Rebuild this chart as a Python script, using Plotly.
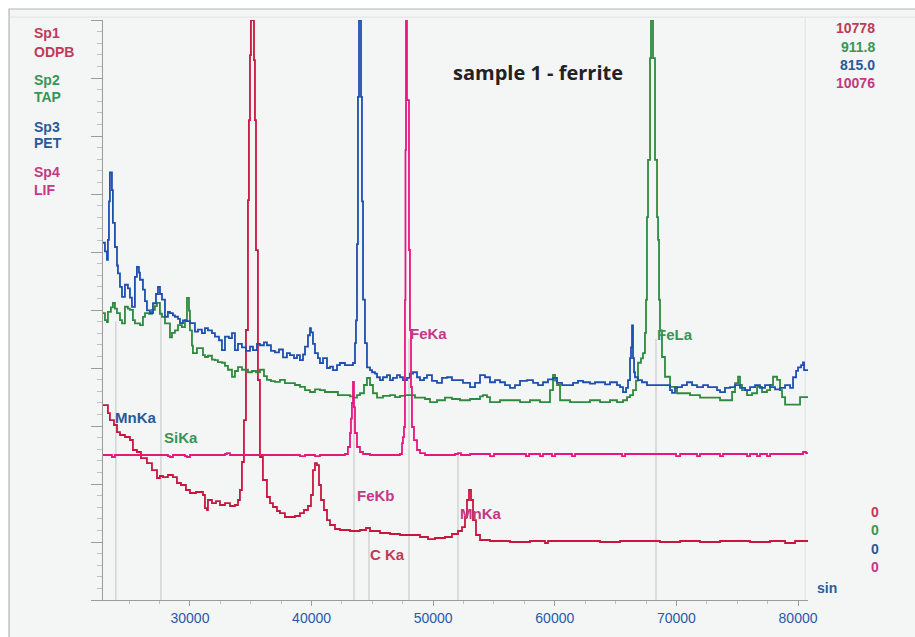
import plotly.graph_objects as go

# ---------------- data ----------------
spectrometers = ["Sp1", "Sp2", "Sp3", "Sp4"]
crystals = ["ODPB", "TAP", "PET", "LIF"]
full_scale = [10778, 911.8, 815.0, 10076]
full_scale_txt = ["10778", "911.8", "815.0", "10076"]
zero_txt = ["0", "0", "0", "0"]

x_range = [22850, 80820]
x_ticks = [30000, 40000, 50000, 60000, 70000, 80000]

sp1_sin = [22850, 23090, 23255, 23420, 23750, 24000, 24245, 24655, 25065, 25310, 25640, 25970,
           26465, 26875, 27290, 27530, 27780, 28190, 28600, 28930, 29260, 29670, 30000, 30495,
           31070, 31235, 31400, 31480, 31810, 32140, 32470, 32880, 33290, 33700, 33950, 34110,
           34275, 34440, 34605, 34770, 34850, 34935, 35015, 35180, 35265, 35345, 35430, 35590,
           35755, 36000, 36330, 36580, 36825, 37155, 37400, 37810, 38225, 38635, 39045, 39375,
           39705, 39950, 40115, 40280, 40445, 40610, 40775, 41020, 41270, 41515, 41925, 42335,
           43160, 43980, 44475, 44805, 45625, 46450, 47270, 48090, 48915, 49575, 50150, 50970,
           51545, 52040, 52370, 52615, 52780, 52945, 53110, 53275, 53520, 53850, 54670, 55495,
           56315, 57960, 59195, 59440, 62075, 63720, 65365, 68650, 70300, 71940, 73585, 76055,
           77700, 78935, 79755, 80820]
sp1_cts = [3623, 3623, 3474, 3344, 3252, 3121, 3066, 3029, 2973, 2787, 2750, 2638,
           2545, 2415, 2267, 2304, 2285, 2323, 2285, 2174, 2137, 2044, 1988, 2007,
           1951, 1709, 1672, 1858, 1802, 1839, 1765, 1802, 1747, 1765, 1858, 2044,
           2564, 3344, 5017, 7432, 8918, 10126, 10778, 10778, 10033, 8918, 6503, 4088,
           2657, 2230, 1914, 1802, 1728, 1654, 1616, 1542, 1542, 1561, 1616, 1672,
           1747, 1951, 2415, 2545, 2508, 2137, 1858, 1672, 1486, 1394, 1319, 1301,
           1282, 1301, 1338, 1282, 1245, 1226, 1208, 1208, 1171, 1133, 1152, 1171,
           1226, 1282, 1356, 1542, 1858, 2044, 1858, 1486, 1208, 1115, 1096, 1096,
           1078, 1096, 1059, 1096, 1096, 1078, 1096, 1078, 1096, 1078, 1096, 1078,
           1096, 1059, 1096, 1096]

sp2_sin = [22850, 23010, 23175, 23255, 23500, 23665, 23830, 24000, 24245, 24410, 24655, 24900,
           25065, 25310, 25475, 25890, 26135, 26300, 26630, 26875, 27120, 27285, 27530, 27700,
           27945, 28110, 28355, 28520, 28765, 29015, 29340, 29590, 29755, 29920, 30000, 30165,
           30245, 30575, 30820, 31070, 31235, 31480, 31810, 32055, 32300, 32630, 32880, 33125,
           33455, 33700, 33950, 34275, 34525, 34770, 35100, 35430, 35755, 36085, 36330, 36660,
           36990, 37400, 37810, 38225, 38635, 39045, 39460, 39870, 40280, 40690, 41100, 41760,
           42170, 42745, 43160, 43405, 43735, 43980, 44310, 44555, 44805, 45050, 45380, 45870,
           46450, 46860, 47270, 47680, 48090, 48505, 48915, 49325, 49740, 50315, 50970, 51545,
           52205, 53030, 53850, 54095, 54425, 54670, 55495, 56315, 57140, 57960, 58785, 59360,
           59605, 59855, 60020, 60185, 60430, 61250, 62075, 62895, 63720, 64540, 65115, 65610,
           65940, 66185, 66430, 66675, 66840, 67085, 67250, 67415, 67500, 67580, 67665, 67830,
           67910, 67995, 68075, 68240, 68405, 68490, 68570, 68650, 68815, 69060, 69475, 70050,
           71120, 71940, 73010, 73585, 74160, 74575, 74820, 75070, 75230, 75395, 75805, 76215,
           76630, 77040, 77450, 77700, 77945, 78275, 78520, 78685, 78935, 79345, 79920, 80165,
           80820]
sp2_cts = [451, 440, 437, 453, 460, 467, 458, 451, 440, 435, 461, 458,
           456, 440, 435, 432, 445, 451, 450, 456, 462, 467, 450, 445,
           435, 435, 413, 420, 424, 432, 429, 440, 475, 455, 424, 400,
           388, 396, 396, 385, 382, 384, 378, 377, 374, 373, 368, 362,
           351, 360, 366, 362, 362, 358, 360, 358, 362, 352, 346, 344,
           343, 346, 341, 341, 338, 335, 330, 327, 331, 330, 327, 327,
           322, 322, 320, 318, 322, 325, 338, 349, 338, 325, 318, 321,
           322, 319, 321, 322, 322, 318, 318, 316, 311, 314, 318, 316,
           314, 316, 320, 322, 319, 311, 314, 314, 311, 314, 311, 311,
           330, 354, 345, 338, 314, 311, 311, 314, 311, 314, 311, 314,
           319, 322, 330, 345, 373, 380, 388, 420, 472, 602, 692, 852,
           911.8, 911.8, 852, 692, 602, 566, 472, 424, 382, 351, 335, 325,
           322, 318, 318, 314, 314, 327, 341, 351, 338, 330, 322, 325,
           335, 327, 330, 338, 351, 346, 330, 319, 307, 307, 307, 319,
           319]

sp3_sin = [22850, 23010, 23175, 23255, 23340, 23420, 23500, 23585, 23665, 23830, 24000, 24080,
           24245, 24410, 24655, 24900, 25065, 25230, 25475, 25640, 25805, 25890, 26135, 26300,
           26465, 26710, 26960, 27205, 27370, 27535, 27700, 27945, 28190, 28355, 28600, 28765,
           29015, 29180, 29425, 29670, 30000, 30410, 30660, 30985, 31235, 31480, 31810, 32055,
           32385, 32630, 32880, 33205, 33455, 33700, 33950, 34275, 34605, 34935, 35180, 35510,
           35755, 36085, 36330, 36660, 36990, 37320, 37650, 37975, 38225, 38555, 38800, 39045,
           39295, 39460, 39705, 39870, 39950, 40115, 40280, 40525, 40690, 40940, 41270, 41515,
           41760, 42090, 42335, 42745, 43160, 43405, 43570, 43650, 43735, 43815, 43900, 43980,
           44065, 44145, 44230, 44390, 44555, 44805, 44970, 45215, 45380, 45625, 45870, 46200,
           46450, 46695, 47025, 47270, 47515, 47845, 48090, 48340, 48670, 48915, 49245, 49490,
           49900, 50315, 50725, 51135, 51545, 51960, 52450, 53030, 53440, 53850, 54260, 54670,
           55085, 55495, 55905, 56315, 56725, 57140, 57715, 58210, 58620, 59030, 59440, 59855,
           60185, 60595, 61005, 61500, 61910, 62320, 62895, 63305, 63720, 64130, 64540, 65115,
           65365, 65610, 65860, 66020, 66185, 66265, 66350, 66430, 66515, 66595, 66840, 67170,
           67580, 67995, 68405, 68815, 69225, 69475, 69640, 69885, 70050, 70460, 70870, 71285,
           71695, 72190, 72600, 73010, 73340, 73585, 73995, 74410, 74820, 75230, 75640, 76055,
           76465, 76875, 77285, 77700, 78110, 78520, 78935, 79345, 79590, 79840, 80000, 80250,
           80410, 80495, 80820]
sp3_cts = [502, 490, 478, 506, 560, 601, 601, 576, 530, 496, 470, 459,
           440, 426, 443, 438, 425, 412, 454, 468, 460, 450, 436, 420,
           407, 403, 417, 430, 440, 430, 422, 398, 405, 403, 400, 398,
           395, 389, 393, 392, 389, 377, 380, 375, 382, 379, 375, 370,
           365, 351, 370, 368, 375, 351, 360, 355, 350, 356, 351, 360,
           358, 362, 358, 350, 348, 352, 341, 347, 344, 340, 344, 337,
           345, 356, 372, 382, 376, 360, 347, 340, 333, 340, 326, 328,
           323, 330, 333, 330, 330, 333, 361, 393, 500, 707, 815, 815,
           707, 560, 422, 361, 327, 323, 320, 318, 313, 309, 313, 316,
           309, 312, 316, 313, 309, 312, 318, 320, 313, 309, 312, 316,
           308, 305, 312, 313, 309, 309, 305, 299, 305, 316, 313, 306,
           309, 306, 302, 298, 302, 308, 309, 305, 302, 306, 310, 312,
           305, 302, 302, 305, 308, 306, 304, 306, 306, 303, 306, 302,
           299, 292, 298, 309, 340, 355, 386, 340, 320, 313, 309, 306,
           302, 302, 302, 302, 302, 295, 291, 298, 299, 302, 306, 302,
           299, 302, 299, 299, 295, 292, 298, 299, 302, 298, 295, 299,
           302, 298, 302, 299, 296, 298, 302, 298, 313, 322, 327, 330,
           334, 323, 323]

sp4_sin = [22850, 23420, 23585, 23830, 25890, 28190, 28355, 28600, 29590, 29755, 30000, 32880,
           33040, 33290, 37400, 39045, 39460, 40280, 40690, 42745, 42990, 43160, 43240, 43320,
           43405, 43485, 43570, 43735, 43980, 44230, 44805, 45625, 46860, 47270, 47435, 47515,
           47600, 47680, 47720, 47765, 47845, 48010, 48090, 48175, 48255, 48420, 48670, 48915,
           49325, 50560, 51795, 52040, 52285, 53030, 54505, 54670, 55000, 57470, 57630, 57880,
           58785, 59030, 59770, 60020, 61415, 61665, 65365, 65530, 65775, 69970, 70300, 71695,
           71940, 73585, 73830, 75805, 76055, 76630, 76875, 77450, 77700, 80165, 80410, 80660,
           80820]
sp4_cts = [2519, 2519, 2484, 2519, 2519, 2501, 2484, 2519, 2501, 2484, 2519, 2536,
           2553, 2519, 2519, 2501, 2519, 2501, 2519, 2536, 2658, 2901, 3150, 3422,
           3787, 3352, 2901, 2658, 2571, 2536, 2519, 2519, 2519, 2536, 2727, 2831,
           3005, 5211, 7817, 10076, 8685, 6080, 4690, 3700, 3005, 2779, 2606, 2553,
           2519, 2519, 2536, 2553, 2519, 2536, 2536, 2501, 2536, 2536, 2501, 2536,
           2501, 2536, 2501, 2536, 2501, 2536, 2536, 2501, 2536, 2501, 2536, 2501,
           2536, 2501, 2536, 2501, 2536, 2501, 2536, 2501, 2536, 2536, 2571, 2553,
           2536]

# element markers: label, position (sin), which spectrometer
marker_names = ["MnKa", "SiKa", "FeKb", "C Ka", "FeKa", "MnKa", "FeLa"]
marker_sin = [23910, 27615, 43490, 44720, 48010, 52040, 68320]
marker_sp = [2, 1, 3, 0, 3, 3, 1]

# ---------------- style ----------------
line_colors = ["#c8173f", "#2f8a3f", "#1d4fb0", "#e8177f"]
text_colors = ["#c03a58", "#379656", "#28599c", "#c63884"]
FONT = "Liberation Sans, Arial, sans-serif"

fig = go.Figure()
all_sin = [sp1_sin, sp2_sin, sp3_sin, sp4_sin]
all_cts = [sp1_cts, sp2_cts, sp3_cts, sp4_cts]
yaxes = ["y", "y2", "y3", "y4"]
for i in range(4):
    fig.add_trace(go.Scatter(x=all_sin[i], y=all_cts[i], mode="lines", line_shape="hv",
                             line=dict(color=line_colors[i], width=1.8),
                             yaxis=yaxes[i], showlegend=False, hoverinfo="skip"))

# outer frame & plot borders
shapes = [
    dict(type="rect", xref="paper", yref="paper", x0=-0.1333, x1=1.2, y0=-0.1, y1=1.019,
         fillcolor="#f4f5f5", line=dict(color="#b4b4b4", width=1.2), layer="below"),
    dict(type="line", xref="paper", yref="paper", x0=-0.134, x1=1.2, y0=1.005, y1=1.005,
         line=dict(color="#dfe3e3", width=1), layer="below"),
    dict(type="line", xref="paper", yref="paper", x0=0.996, x1=0.996, y0=0, y1=1.005,
         line=dict(color="#dfe3e3", width=1), layer="below"),
]
# vertical element marker lines (top height in paper fraction)
marker_top = [0.48, 0.50, 0.37, 0.12, 0.45, 0.25, 0.45]
for xs, top in zip(marker_sin, marker_top):
    shapes.append(dict(type="line", xref="x", yref="paper", x0=xs, x1=xs, y0=0, y1=top,
                       line=dict(color="#cacccc", width=1.2), layer="below"))

annotations = []
# element labels
label_y = [0.3155, 0.281, 0.181, 0.0776, 0.460, 0.150, 0.457]
label_dx = [-240, 85, 80, -80, -80, 0, -80]
for name, xs, sp, ly, dx in zip(marker_names, marker_sin, marker_sp, label_y, label_dx):
    annotations.append(dict(x=xs + dx, y=ly, xref="x", yref="paper", text="<b>%s</b>" % name,
                            showarrow=False, xanchor="left", yanchor="middle",
                            font=dict(family=FONT, size=15, color=text_colors[sp])))

# left spectrometer/crystal labels
left_y = [(0.978, 0.945), (0.897, 0.867), (0.816, 0.788), (0.738, 0.707)]
for i in range(4):
    for txt, yy in zip([spectrometers[i], crystals[i]], left_y[i]):
        annotations.append(dict(x=-0.1007, y=yy, xref="paper", yref="paper", text="<b>%s</b>" % txt,
                                showarrow=False, xanchor="left", yanchor="middle",
                                font=dict(family=FONT, size=14, color=text_colors[i])))
# right full-scale values
top_y = [0.986, 0.953, 0.922, 0.891]
bot_y = [0.152, 0.121, 0.088, 0.057]
for i in range(4):
    annotations.append(dict(x=1.098, y=top_y[i], xref="paper", yref="paper",
                            text="<b>%s</b>" % full_scale_txt[i],
                            showarrow=False, xanchor="right", yanchor="middle",
                            font=dict(family=FONT, size=14, color=text_colors[i])))
    annotations.append(dict(x=1.103, y=bot_y[i], xref="paper", yref="paper",
                            text="<b>%s</b>" % zero_txt[i],
                            showarrow=False, xanchor="right", yanchor="middle",
                            font=dict(family=FONT, size=14, color=text_colors[i])))
annotations.append(dict(x=1.010, y=0.021, xref="paper", yref="paper", text="<b>sin</b>",
                        showarrow=False, xanchor="left", yanchor="middle",
                        font=dict(family=FONT, size=14, color="#2b5d9e")))
annotations.append(dict(x=0.617, y=0.909, xref="paper", yref="paper", text="<b>sample 1 - ferrite</b>",
                        showarrow=False, xanchor="center", yanchor="middle",
                        font=dict(family="Open Sans, sans-serif", size=20, color="#222222")))

axis_gray = "#9a9c9c"
layout_y = dict(range=[0, full_scale[0]], tick0=0, dtick=full_scale[0] / 10, ticks="outside",
                ticklen=11, tickcolor=axis_gray, tickwidth=1.2, showticklabels=False,
                showgrid=False, zeroline=False, showline=True, linecolor=axis_gray, linewidth=1.2,
                minor=dict(dtick=full_scale[0] / 50, ticks="outside", ticklen=5,
                           tickcolor="#c0c2c2", tickwidth=1, showgrid=False),
                automargin=False, fixedrange=True)
fig.update_layout(
    width=915, height=637,
    margin=dict(l=103, r=107, t=20, b=37),
    paper_bgcolor="white", plot_bgcolor="#f7f8f8",
    xaxis=dict(range=x_range, tickvals=x_ticks, ticktext=[str(t) for t in x_ticks],
               ticks="outside", ticklen=5, tickcolor=axis_gray, showgrid=False, zeroline=False,
               showline=True, linecolor=axis_gray, linewidth=1.2,
               tickfont=dict(family=FONT, size=14, color="#2a5aa8"),
               minor=dict(dtick=2500, ticks="outside", ticklen=3, tickcolor="#c0c2c2"),
               automargin=False, fixedrange=True),
    yaxis=layout_y,
    yaxis2=dict(range=[0, full_scale[1]], overlaying="y", visible=False, fixedrange=True),
    yaxis3=dict(range=[0, full_scale[2]], overlaying="y", visible=False, fixedrange=True),
    yaxis4=dict(range=[0, full_scale[3]], overlaying="y", visible=False, fixedrange=True),
    shapes=shapes,
    annotations=annotations,
)
fig.write_html("out.html", config={"displayModeBar": False},
               post_script="document.body.style.margin='0';document.body.style.overflow='hidden';")
